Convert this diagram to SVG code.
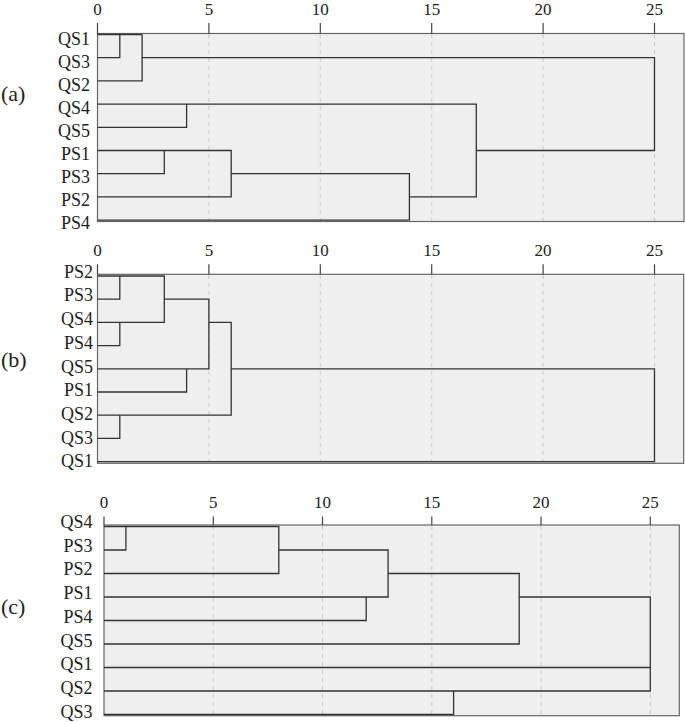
<svg xmlns="http://www.w3.org/2000/svg" width="685" height="722" viewBox="0 0 685 722">
<style>
text{font-family:"Liberation Serif","Times New Roman",serif;fill:#222}
.tk{font-size:17px;text-anchor:middle}
.lf{font-size:18px;text-anchor:end}
.pl{font-size:22px}
.box{fill:#efefef;stroke:#666;stroke-width:1.2}
.grid{stroke:#c8c8c8;stroke-width:1;stroke-dasharray:4,4}
.tick{stroke:#444;stroke-width:1.2}
.den{fill:none;stroke:#333;stroke-width:1.3}
</style>
<rect width="685" height="722" fill="#fff"/>

<g id="panel-a">
<rect class="box" x="97.5" y="33.5" width="586.5" height="188"/>
<g class="grid">
<line x1="208.9" y1="34" x2="208.9" y2="221"/><line x1="320.3" y1="34" x2="320.3" y2="221"/><line x1="431.7" y1="34" x2="431.7" y2="221"/><line x1="543.1" y1="34" x2="543.1" y2="221"/><line x1="654.5" y1="34" x2="654.5" y2="221"/>
</g>
<g class="tick">
<line x1="97.5" y1="23" x2="97.5" y2="33.5"/><line x1="208.9" y1="23" x2="208.9" y2="33.5"/><line x1="320.3" y1="23" x2="320.3" y2="33.5"/><line x1="431.7" y1="23" x2="431.7" y2="33.5"/><line x1="543.1" y1="23" x2="543.1" y2="33.5"/><line x1="654.5" y1="23" x2="654.5" y2="33.5"/>
</g>
<text class="tk" x="97.5" y="15.3">0</text><text class="tk" x="208.9" y="15.3">5</text><text class="tk" x="320.3" y="15.3">10</text><text class="tk" x="431.7" y="15.3">15</text><text class="tk" x="543.1" y="15.3">20</text><text class="tk" x="654.5" y="15.3">25</text>
<text class="lf" x="90" y="44.5">QS1</text><text class="lf" x="90" y="67.5">QS3</text><text class="lf" x="90" y="90.6">QS2</text><text class="lf" x="90" y="113.6">QS4</text><text class="lf" x="90" y="136.7">QS5</text><text class="lf" x="90" y="159.7">PS1</text><text class="lf" x="90" y="182.8">PS3</text><text class="lf" x="90" y="205.8">PS2</text><text class="lf" x="90" y="228.9">PS4</text>
<text class="pl" x="1" y="101">(a)</text>
</g>

<g id="panel-b">
<rect class="box" x="97.5" y="274.3" width="586.2" height="189"/>
<g class="grid">
<line x1="208.9" y1="275" x2="208.9" y2="463"/><line x1="320.3" y1="275" x2="320.3" y2="463"/><line x1="431.7" y1="275" x2="431.7" y2="463"/><line x1="543.1" y1="275" x2="543.1" y2="463"/><line x1="654.5" y1="275" x2="654.5" y2="463"/>
</g>
<g class="tick">
<line x1="97.5" y1="264.3" x2="97.5" y2="274.3"/><line x1="208.9" y1="264.3" x2="208.9" y2="274.3"/><line x1="320.3" y1="264.3" x2="320.3" y2="274.3"/><line x1="431.7" y1="264.3" x2="431.7" y2="274.3"/><line x1="543.1" y1="264.3" x2="543.1" y2="274.3"/><line x1="654.5" y1="264.3" x2="654.5" y2="274.3"/>
</g>
<text class="tk" x="97.5" y="255.5">0</text><text class="tk" x="208.9" y="255.5">5</text><text class="tk" x="320.3" y="255.5">10</text><text class="tk" x="431.7" y="255.5">15</text><text class="tk" x="543.1" y="255.5">20</text><text class="tk" x="654.5" y="255.5">25</text>
<text class="lf" x="93" y="277.7">PS2</text><text class="lf" x="93" y="301.4">PS3</text><text class="lf" x="93" y="325.1">QS4</text><text class="lf" x="93" y="348.8">PS4</text><text class="lf" x="93" y="372.5">QS5</text><text class="lf" x="93" y="396.2">PS1</text><text class="lf" x="93" y="419.9">QS2</text><text class="lf" x="93" y="443.6">QS3</text><text class="lf" x="93" y="467.3">QS1</text>
<text class="pl" x="1" y="367">(b)</text>
</g>

<g id="panel-c">
<rect class="box" x="104" y="525" width="575.3" height="190.7"/>
<g class="grid">
<line x1="213.3" y1="526" x2="213.3" y2="715"/><line x1="322.5" y1="526" x2="322.5" y2="715"/><line x1="431.8" y1="526" x2="431.8" y2="715"/><line x1="541" y1="526" x2="541" y2="715"/><line x1="650.3" y1="526" x2="650.3" y2="715"/>
</g>
<g class="tick">
<line x1="104" y1="516.5" x2="104" y2="525"/><line x1="213.3" y1="516.5" x2="213.3" y2="525"/><line x1="322.5" y1="516.5" x2="322.5" y2="525"/><line x1="431.8" y1="516.5" x2="431.8" y2="525"/><line x1="541" y1="516.5" x2="541" y2="525"/><line x1="650.3" y1="516.5" x2="650.3" y2="525"/>
</g>
<text class="tk" x="104" y="507.5">0</text><text class="tk" x="213.3" y="507.5">5</text><text class="tk" x="322.5" y="507.5">10</text><text class="tk" x="431.8" y="507.5">15</text><text class="tk" x="541" y="507.5">20</text><text class="tk" x="650.3" y="507.5">25</text>
<text class="lf" x="92.5" y="527.7">QS4</text><text class="lf" x="92.5" y="551.5">PS3</text><text class="lf" x="92.5" y="575.2">PS2</text><text class="lf" x="92.5" y="599">PS1</text><text class="lf" x="92.5" y="622.7">PS4</text><text class="lf" x="92.5" y="646.5">QS5</text><text class="lf" x="92.5" y="670.2">QS1</text><text class="lf" x="92.5" y="694">QS2</text><text class="lf" x="92.5" y="717.7">QS3</text>
<text class="pl" x="1" y="614">(c)</text>
</g>

<g id="connectors" class="den">
<path d="M97.5 34.5H142.1 M97.5 57.7H119.8V34.5 M142.1 34.5V80.9H97.5 M142.1 57.7H654.5V150.5H476.3 M97.5 104.1H476.3V196.9H409.4 M97.5 127.3H186.6V104.1 M97.5 150.5H231.2V196.9H97.5 M97.5 173.7H164.3V150.5 M231.2 173.7H409.4V220.1H97.5"/>
<path d="M97.5 276H164.3V322.4H97.5 M97.5 299.2H119.8V276 M119.8 322.4V345.6H97.5 M164.3 299.2H208.9V368.8H97.5 M97.5 392H186.6V368.8 M208.9 322.4H231.2V415.2H97.5 M97.5 438.4H119.8V415.2 M231.2 368.8H654.5V461.6H97.5"/>
<path d="M104 526.5H278.8V573.5H104 M104 550H125.9V526.5 M278.8 550H388.1V597H104 M104 620.5H366.2V597 M388.1 573.5H519.2V644H104 M519.2 597H650.3V691H104 M104 667.5H650.3 M104 714.5H453.6V691"/>
</g>
</svg>
